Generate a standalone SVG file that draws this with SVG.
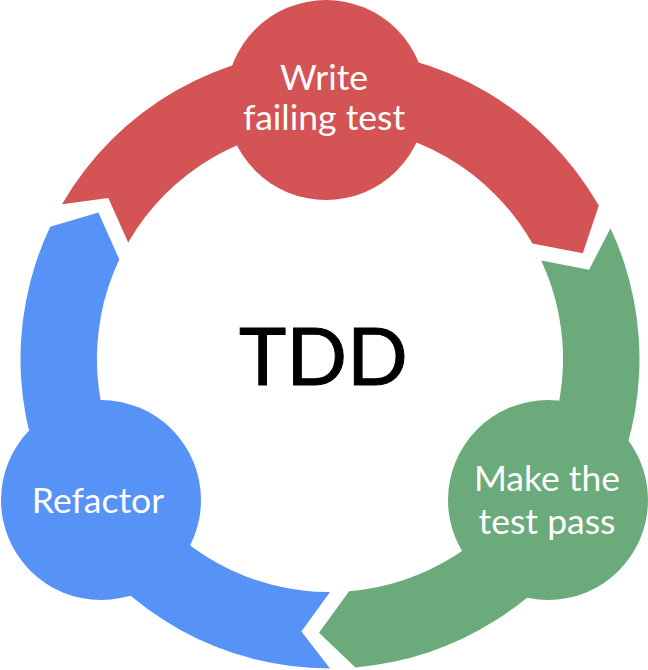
<svg xmlns="http://www.w3.org/2000/svg" width="648" height="670" viewBox="0 0 648 670">
  <style>
    .red { fill: #D45354; }
    .green { fill: #6BAA7A; }
    .blue { fill: #5793F6; }
    .lbl { font-family: Lato, "Liberation Sans", sans-serif; font-size: 35.5px; fill: #FFFFFF; text-anchor: middle; }
    .center { font-family: Lato, "Liberation Sans", sans-serif; font-size: 80px; fill: #000000; text-anchor: middle; stroke: #000000; stroke-width: 1; }
  </style>
  <rect width="648" height="670" fill="#FFFFFF"/>
  <g id="connectors">
    <path class="red" d="M62.0,204.3 A309.5,309.5 0 0 1 598.8,205.6 L582.8,253.3 L532.4,243.5 A233,233 0 0 0 128.2,242.5 L108.3,197.9 Z"/>
    <path class="green" d="M610.5,228.2 A309.5,309.5 0 0 1 355.4,667.4 L319.0,632.8 L349.1,591.2 A233,233 0 0 0 541.2,260.5 L589.1,269.8 Z"/>
    <path class="blue" d="M330,668.5 A309.5,309.5 0 0 1 50.2,226.7 L98.4,212.6 L119.3,259.4 A233,233 0 0 0 330,592 L301.4,631.5 Z"/>
  </g>
  <g id="node-write">
    <circle class="red" cx="326" cy="100" r="100"/>
    <text class="lbl" x="324" y="90">Write</text>
    <text class="lbl" x="324" y="130">failing test</text>
  </g>
  <g id="node-pass">
    <circle class="green" cx="548" cy="500" r="100"/>
    <text class="lbl" x="547" y="491">Make the</text>
    <text class="lbl" x="547" y="534">test pass</text>
  </g>
  <g id="node-refactor">
    <circle class="blue" cx="101" cy="500" r="100"/>
    <text class="lbl" x="98" y="513">Refactor</text>
  </g>
  <g id="node-tdd">
    <text class="center" x="323.5" y="385">TDD</text>
  </g>
</svg>
